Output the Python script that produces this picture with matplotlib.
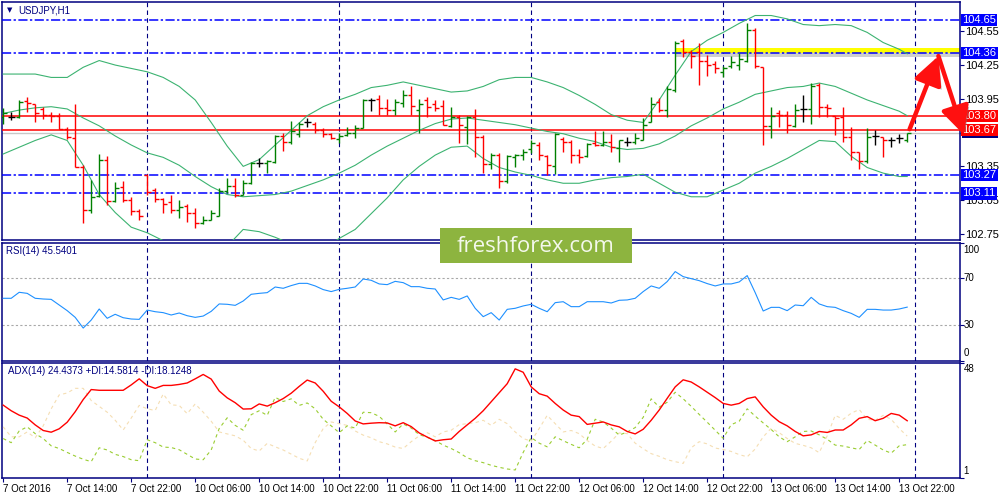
import matplotlib
matplotlib.use('Agg')
import matplotlib.pyplot as plt
import matplotlib.patheffects as pe
from matplotlib.patches import Rectangle
from matplotlib.transforms import blended_transform_factory

# USDJPY H1, one value per bar: 7 Oct 06:00 .. 13 Oct 23:00
opens = [103.79, 103.79, 103.79, 103.93, 103.90, 103.86, 103.81, 103.80, 103.68, 103.60,
         103.34, 102.96, 103.09, 103.41, 103.04, 103.17, 103.05, 102.95, 103.27, 103.14,
         103.06, 103.03, 102.96, 103.00, 102.94, 102.85, 102.87, 102.91, 103.13, 103.18,
         103.10, 103.20, 103.38, 103.38, 103.39, 103.62, 103.57, 103.64, 103.74, 103.73,
         103.67, 103.64, 103.59, 103.63, 103.65, 103.69, 103.94, 103.95, 103.87, 103.85,
         103.91, 103.98, 103.85, 103.94, 103.90, 103.89, 103.71, 103.79, 103.70, 103.79,
         103.61, 103.37, 103.45, 103.22, 103.43, 103.45, 103.50, 103.54, 103.44, 103.35,
         103.59, 103.57, 103.45, 103.44, 103.56, 103.54, 103.57, 103.51, 103.57, 103.57,
         103.58, 103.74, 103.92, 103.85, 104.03, 104.46, 104.37, 104.37, 104.29, 104.26,
         104.19, 104.24, 104.25, 104.29, 104.56, 104.23, 103.71, 103.82, 103.81, 103.71,
         103.86, 103.86, 104.07, 103.88, 103.80, 103.79, 103.61, 103.48, 103.40, 103.62,
         103.61, 103.58, 103.60, 103.58]
highs = [103.87, 103.83, 103.94, 103.97, 103.90, 103.88, 103.83, 103.82, 103.70, 103.90,
         103.36, 103.23, 103.46, 103.44, 103.21, 103.22, 103.08, 102.97, 103.28, 103.16,
         103.07, 103.10, 103.05, 103.02, 102.98, 102.91, 102.96, 103.16, 103.25, 103.25,
         103.23, 103.39, 103.42, 103.41, 103.63, 103.65, 103.75, 103.74, 103.78, 103.74,
         103.69, 103.65, 103.65, 103.70, 103.72, 103.95, 103.96, 103.98, 103.95, 103.95,
         104.03, 104.06, 103.95, 103.97, 103.94, 103.94, 103.88, 103.81, 103.80, 103.86,
         103.63, 103.47, 103.47, 103.45, 103.46, 103.50, 103.58, 103.57, 103.45, 103.65,
         103.61, 103.58, 103.50, 103.56, 103.66, 103.66, 103.64, 103.58, 103.61, 103.65,
         103.78, 103.97, 103.96, 104.06, 104.46, 104.48, 104.38, 104.45, 104.34, 104.29,
         104.24, 104.33, 104.36, 104.62, 104.58, 104.23, 103.88, 103.85, 103.84, 103.90,
         103.98, 104.09, 104.09, 103.90, 103.80, 103.88, 103.70, 103.48, 103.69, 103.67,
         103.61, 103.61, 103.64, 103.65]
lows = [103.73, 103.76, 103.78, 103.83, 103.74, 103.77, 103.74, 103.68, 103.59, 103.34,
        102.85, 102.94, 103.08, 103.01, 103.03, 103.03, 102.92, 102.87, 103.10, 103.03,
        102.94, 102.94, 102.89, 102.86, 102.80, 102.84, 102.87, 102.91, 103.11, 103.08,
        103.10, 103.19, 103.34, 103.29, 103.38, 103.49, 103.55, 103.61, 103.70, 103.65,
        103.61, 103.59, 103.56, 103.62, 103.60, 103.69, 103.84, 103.81, 103.81, 103.81,
        103.88, 103.81, 103.65, 103.79, 103.84, 103.72, 103.70, 103.56, 103.55, 103.43,
        103.29, 103.33, 103.16, 103.20, 103.34, 103.41, 103.47, 103.41, 103.27, 103.28,
        103.48, 103.38, 103.38, 103.43, 103.53, 103.53, 103.48, 103.39, 103.53, 103.55,
        103.58, 103.74, 103.83, 103.79, 104.01, 104.32, 104.22, 104.07, 104.15, 104.18,
        104.14, 104.22, 104.21, 104.28, 104.22, 103.54, 103.60, 103.70, 103.65, 103.70,
        103.74, 103.73, 103.79, 103.79, 103.63, 103.57, 103.41, 103.33, 103.38, 103.54,
        103.43, 103.52, 103.56, 103.57]
closes = [103.82, 103.79, 103.92, 103.91, 103.82, 103.81, 103.80, 103.68, 103.61, 103.34,
          102.96, 103.08, 103.41, 103.04, 103.16, 103.05, 102.95, 102.91, 103.12, 103.06,
          103.02, 102.96, 102.99, 102.94, 102.85, 102.87, 102.94, 103.13, 103.18, 103.10,
          103.20, 103.38, 103.38, 103.40, 103.62, 103.57, 103.66, 103.73, 103.74, 103.67,
          103.64, 103.60, 103.62, 103.65, 103.69, 103.94, 103.94, 103.87, 103.85, 103.92,
          103.98, 103.89, 103.90, 103.88, 103.87, 103.72, 103.79, 103.72, 103.79, 103.61,
          103.37, 103.45, 103.22, 103.44, 103.45, 103.48, 103.56, 103.45, 103.36, 103.64,
          103.57, 103.45, 103.43, 103.55, 103.54, 103.57, 103.52, 103.58, 103.57, 103.60,
          103.72, 103.90, 103.85, 104.04, 104.45, 104.37, 104.33, 104.29, 104.25, 104.22,
          104.22, 104.28, 104.30, 104.56, 104.24, 103.71, 103.80, 103.81, 103.72, 103.85,
          103.86, 104.06, 103.88, 103.87, 103.78, 103.61, 103.48, 103.40, 103.61, 103.62,
          103.58, 103.58, 103.60, 103.65]

# Bollinger bands
band_bars = list(range(0, 113, 2)) + [113]
band_upper = [104.17, 104.17, 104.17, 104.14, 104.14, 104.23, 104.29, 104.25, 104.22, 104.19,
              104.14, 104.06, 103.94, 103.74, 103.53, 103.35, 103.41, 103.54, 103.67, 103.80,
              103.88, 103.94, 103.99, 104.05, 104.07, 104.10, 104.07, 104.04, 104.01, 104.02,
              104.06, 104.12, 104.14, 104.14, 104.10, 104.05, 103.98, 103.90, 103.81, 103.76,
              103.74, 103.94, 104.16, 104.37, 104.47, 104.54, 104.62, 104.69, 104.69, 104.66,
              104.61, 104.60, 104.61, 104.60, 104.54, 104.45, 104.39, 104.35]
band_middle = [103.82, 103.85, 103.87, 103.88, 103.86, 103.78, 103.71, 103.62, 103.54, 103.47,
               103.43, 103.36, 103.26, 103.17, 103.10, 103.08, 103.09, 103.10, 103.13, 103.18,
               103.23, 103.29, 103.36, 103.45, 103.53, 103.60, 103.67, 103.73, 103.77, 103.78,
               103.76, 103.74, 103.72, 103.69, 103.66, 103.64, 103.60, 103.57, 103.52, 103.50,
               103.51, 103.55, 103.62, 103.71, 103.78, 103.86, 103.92, 103.99, 104.02, 104.05,
               104.06, 104.09, 104.06, 104.00, 103.94, 103.89, 103.84, 103.80]
band_lower = [103.46, 103.52, 103.58, 103.63, 103.58, 103.36, 103.10, 102.94, 102.81, 102.76,
              102.69, 102.61, 102.55, 102.55, 102.64, 102.79, 102.77, 102.72, 102.66, 102.61,
              102.61, 102.71, 102.79, 102.93, 103.07, 103.23, 103.35, 103.45, 103.52, 103.53,
              103.42, 103.34, 103.30, 103.27, 103.23, 103.20, 103.20, 103.23, 103.25, 103.26,
              103.28, 103.20, 103.12, 103.08, 103.08, 103.14, 103.20, 103.29, 103.35, 103.42,
              103.50, 103.58, 103.57, 103.44, 103.34, 103.29, 103.26, 103.26]

rsi_values = [53.0, 53.0, 58.1, 57.2, 53.0, 52.4, 52.1, 47.3, 42.5, 36.8,
              27.7, 34.5, 43.9, 36.0, 39.4, 36.5, 35.4, 35.1, 43.0, 41.6,
              40.8, 38.8, 40.5, 38.2, 36.8, 37.9, 41.9, 48.2, 47.9, 47.0,
              50.7, 56.4, 57.2, 57.8, 62.6, 61.5, 63.8, 65.7, 65.7, 63.5,
              60.4, 58.7, 60.6, 61.5, 62.6, 69.4, 68.3, 65.2, 64.6, 67.4,
              66.3, 62.9, 62.9, 61.5, 60.9, 51.6, 53.8, 52.1, 55.0, 44.5,
              37.4, 40.8, 34.5, 43.6, 44.5, 46.5, 47.9, 44.5, 41.6, 49.3,
              50.1, 45.9, 45.9, 50.1, 50.1, 50.1, 49.0, 51.3, 51.6, 53.0,
              58.7, 63.5, 61.5, 67.2, 75.7, 71.4, 69.7, 68.0, 65.5, 63.5,
              65.2, 65.2, 66.9, 72.3, 57.8, 42.2, 45.3, 45.3, 42.5, 47.3,
              46.7, 53.8, 48.2, 45.9, 45.3, 42.5, 40.2, 36.8, 43.6, 43.6,
              43.0, 43.0, 43.9, 45.5]

adx_values = [30.8, 28.5, 26.7, 25.5, 22.7, 20.4, 19.7, 21.1, 23.8, 28.1,
              33.1, 37.2, 36.9, 36.9, 36.9, 36.9, 39.1, 41.6, 38.8, 37.7,
              38.9, 38.9, 39.3, 39.9, 41.6, 43.4, 41.5, 36.6, 33.8, 31.8,
              29.2, 29.3, 31.3, 30.4, 31.8, 33.5, 35.7, 38.5, 41.1, 39.9,
              36.5, 32.4, 30.1, 27.4, 24.3, 23.1, 23.4, 23.6, 23.5, 22.3,
              23.6, 22.0, 19.4, 17.7, 16.1, 16.6, 16.9, 20.0, 22.7, 25.4,
              28.5, 32.2, 35.9, 39.6, 45.7, 44.3, 38.3, 35.5, 34.5, 31.5,
              28.8, 26.7, 26.1, 22.9, 23.4, 23.9, 22.7, 21.9, 20.0, 19.0,
              20.9, 24.6, 28.8, 33.6, 38.3, 41.2, 40.3, 38.3, 36.1, 33.9,
              31.5, 30.8, 31.5, 33.5, 34.2, 30.1, 26.7, 24.0, 22.3, 20.0,
              18.2, 18.6, 20.0, 19.6, 20.6, 20.6, 22.7, 25.4, 26.1, 24.4,
              25.4, 27.4, 26.7, 24.4]
plus_di = [17.1, 15.4, 20.2, 21.9, 19.1, 17.1, 14.1, 13.0, 11.4, 9.9,
           8.6, 7.6, 13.3, 12.4, 10.6, 9.7, 8.4, 8.0, 16.6, 15.4,
           13.6, 13.4, 12.5, 10.6, 8.7, 8.4, 12.4, 21.2, 25.6, 22.5,
           20.5, 26.9, 28.5, 26.6, 34.0, 32.3, 33.4, 30.7, 31.7, 29.3,
           25.0, 22.3, 19.5, 22.3, 21.4, 27.9, 27.7, 26.2, 23.1, 19.8,
           23.1, 21.4, 18.7, 17.6, 16.3, 14.4, 13.0, 11.3, 9.2, 8.0,
           7.2, 6.1, 5.3, 4.6, 4.2, 11.4, 17.5, 15.2, 13.7, 17.8,
           16.2, 14.7, 13.3, 16.8, 25.0, 23.9, 21.4, 18.5, 19.8, 21.6,
           25.8, 33.4, 30.0, 32.0, 36.1, 33.4, 30.3, 27.0, 23.8, 20.5,
           17.2, 22.8, 24.2, 29.3, 26.3, 23.5, 20.8, 17.8, 15.8, 17.8,
           20.0, 20.2, 18.6, 16.8, 14.4, 14.0, 13.3, 12.6, 16.3, 14.4,
           12.4, 11.1, 14.1, 14.6]
minus_di = [21.9, 17.8, 17.8, 19.8, 17.4, 22.3, 29.3, 35.0, 35.8, 37.7,
            37.7, 32.7, 30.3, 27.9, 24.6, 20.6, 25.5, 30.7, 29.3, 28.6,
            35.4, 30.9, 30.7, 27.3, 31.3, 27.9, 24.2, 19.8, 19.0, 18.2,
            16.4, 13.0, 12.0, 15.1, 13.7, 12.4, 10.7, 9.0, 7.9, 15.4,
            21.2, 23.9, 23.2, 22.5, 20.2, 18.5, 17.4, 15.8, 14.9, 13.6,
            13.0, 15.8, 18.2, 19.5, 17.8, 19.8, 20.5, 22.8, 23.2, 23.6,
            24.6, 22.5, 25.0, 23.2, 19.8, 17.1, 16.0, 21.2, 26.6, 23.2,
            19.8, 20.4, 19.1, 16.3, 14.0, 13.0, 16.0, 19.4, 19.1, 15.2,
            12.9, 10.9, 9.8, 8.4, 7.6, 6.9, 13.3, 15.8, 14.9, 13.2,
            12.6, 11.8, 10.5, 9.6, 12.8, 17.8, 21.3, 19.5, 17.1, 15.1,
            14.3, 13.3, 11.3, 18.2, 26.6, 25.0, 27.5, 29.0, 25.0, 24.6,
            26.6, 25.0, 21.2, 18.1]

day_starts = [18, 42, 66, 90, 114]
label_bars = list(range(0, 113, 8))
time_labels = ['7 Oct 2016', '7 Oct 14:00', '7 Oct 22:00', '10 Oct 06:00', '10 Oct 14:00',
               '10 Oct 22:00', '11 Oct 06:00', '11 Oct 14:00', '11 Oct 22:00', '12 Oct 06:00',
               '12 Oct 14:00', '12 Oct 22:00', '13 Oct 06:00', '13 Oct 14:00', '13 Oct 22:00']
price_ticks = [104.55, 104.25, 103.95, 103.65, 103.35, 103.05, 102.75]
blue_levels = [104.65, 104.36, 103.27, 103.11]
red_levels = [103.80, 103.67]
last_price = 103.65
zone_low = 104.355
zone_high = 104.40
zone_first_bar = 84.1
rsi_levels = [30, 70]

NAVY = '#000080'
X_MIN, X_MAX = -0.15, 119.6
LABEL_X = 0.9625

plt.rcParams['font.family'] = ['Liberation Sans', 'DejaVu Sans']


def style_panel(ax):
    ax.set_xlim(X_MIN, X_MAX)
    for s in ax.spines.values():
        s.set_color(NAVY)
        s.set_linewidth(1.1)
    for b in day_starts:
        ax.axvline(b, color=NAVY, lw=0.8, ls=(0, (4, 3)), zorder=1)
    ax.yaxis.tick_right()
    ax.tick_params(axis='y', length=3, width=0.8, color=NAVY, labelsize=8, pad=1)
    ax.tick_params(axis='x', length=0, labelbottom=False)


def price_box(ax, trans, value, face, z):
    ax.text(LABEL_X, value, '%.2f' % value, transform=trans, color='white', fontsize=8,
            ha='left', va='center', zorder=z, clip_on=False,
            bbox=dict(boxstyle='square,pad=0.1', fc=face, ec='none'))


def draw_prices(fig, ax):
    style_panel(ax)
    bars = list(range(len(opens)))
    colors = []
    for o, c in zip(opens, closes):
        if c > o:
            colors.append('#008000')
        elif c < o:
            colors.append('#FF0000')
        else:
            colors.append('#000000')
    ax.vlines(bars, lows, highs, colors=colors, lw=1.0, zorder=6)
    ax.hlines(opens, [b - 0.42 for b in bars], bars, colors=colors, lw=1.0, zorder=6)
    ax.hlines(closes, bars, [b + 0.42 for b in bars], colors=colors, lw=1.0, zorder=6)

    for band in (band_upper, band_middle, band_lower):
        ax.plot(band_bars, band, color='#3CB371', lw=0.8, zorder=4)

    zone = Rectangle((zone_first_bar, zone_low), X_MAX - zone_first_bar, zone_high - zone_low,
                     fc='#FFFF00', ec='none', zorder=2,
                     path_effects=[pe.withSimplePatchShadow(offset=(0, -2.5), shadow_rgbFace='#888888', alpha=0.4)])
    ax.add_patch(zone)

    for lvl in blue_levels:
        ax.axhline(lvl, color='#0000FF', lw=1.1, ls=(0, (6, 1.6, 1.5, 1.6)), zorder=3)
    for lvl in red_levels:
        ax.axhline(lvl, color='#FF0000', lw=1.1, zorder=3)
    ax.axhline(last_price, color='#C8C8C8', lw=1.0, zorder=2)

    ax.set_ylim(102.696, 104.81)
    ax.set_yticks(price_ticks)
    # the tick under the current-price box is covered in the terminal
    ax.set_yticklabels(['' if abs(p - last_price) < 0.01 else '%.2f' % p for p in price_ticks])

    trans = blended_transform_factory(fig.transFigure, ax.transData)
    for lvl in blue_levels:
        price_box(ax, trans, lvl, '#0000FF', 20)
    # current price box, mostly hidden under the 103.67 label
    ax.add_patch(Rectangle((LABEL_X - 0.001, last_price - 0.045), 0.036, 0.045, transform=trans,
                           fc=NAVY, ec='none', zorder=21, clip_on=False))
    for lvl in red_levels:
        price_box(ax, trans, lvl, '#FF0000', 22)

    # drawn forecast: up to the yellow zone, then back down
    shadow = [pe.withSimplePatchShadow(offset=(2, -2), shadow_rgbFace='#777777', alpha=0.5)]
    style = '-|>,head_length=1.0,head_width=0.5'
    ax.annotate('', xy=(116.9, 104.33), xytext=(113.3, 103.68), annotation_clip=False,
                arrowprops=dict(arrowstyle=style, color='#FF1010', lw=3.2, mutation_scale=17,
                                shrinkA=0, shrinkB=0, path_effects=shadow),
                zorder=25)
    ax.annotate('', xy=(120.1, 103.63), xytext=(116.9, 104.33), annotation_clip=False,
                arrowprops=dict(arrowstyle=style, color='#FF1010', lw=3.2, mutation_scale=17,
                                shrinkA=0, shrinkB=0, path_effects=shadow),
                zorder=25)

    ax.text(0.0075, 0.966, '\u25BC', transform=ax.transAxes, color=NAVY, fontsize=5,
            ha='center', va='center', family='DejaVu Sans')
    ax.text(0.0165, 0.966, 'USDJPY,H1', transform=ax.transAxes, color=NAVY, fontsize=7,
            ha='left', va='center')


def draw_rsi(fig, ax):
    style_panel(ax)
    bars = list(range(len(rsi_values)))
    ax.plot(bars, rsi_values, color='#1E90FF', lw=0.8, zorder=4)
    for lvl in rsi_levels:
        ax.axhline(lvl, color='#A8A8A8', lw=0.8, ls=(0, (2, 2)), zorder=2)
    ax.set_ylim(-0.3, 100)
    ax.set_yticks([0, 30, 70, 100])
    ax.set_yticklabels([])
    trans = blended_transform_factory(fig.transFigure, ax.transData)
    ax.text(LABEL_X + 0.001, 98, '100', transform=trans, fontsize=7, va='top', ha='left')
    ax.text(LABEL_X + 0.001, 70, '70', transform=trans, fontsize=7, va='center', ha='left')
    ax.text(LABEL_X + 0.001, 30, '30', transform=trans, fontsize=7, va='center', ha='left')
    ax.text(LABEL_X + 0.001, 2, '0', transform=trans, fontsize=7, va='bottom', ha='left')
    ax.text(0.004, 0.93, 'RSI(14) 45.5401', transform=ax.transAxes, color=NAVY, fontsize=7,
            ha='left', va='center')


def draw_adx(fig, ax):
    style_panel(ax)
    bars = list(range(len(adx_values)))
    ax.plot(bars, minus_di, color='#F5DEB3', lw=0.8, ls=(0, (3, 3)), zorder=3)
    ax.plot(bars, plus_di, color='#9ACD32', lw=0.8, ls=(0, (3, 3)), zorder=3)
    ax.plot(bars, adx_values, color='#FF0000', lw=1.0, zorder=4)
    ax.set_ylim(0.9, 48.1)
    ax.set_yticks([1, 48])
    ax.set_yticklabels([])
    trans = blended_transform_factory(fig.transFigure, ax.transData)
    ax.text(LABEL_X + 0.001, 47.6, '48', transform=trans, fontsize=7, va='top', ha='left')
    ax.text(LABEL_X + 0.001, 1.6, '1', transform=trans, fontsize=7, va='bottom', ha='left')
    ax.text(0.006, 0.93, 'ADX(14) 24.4373 +DI:14.5814 -DI:18.1248', transform=ax.transAxes,
            color=NAVY, fontsize=7, ha='left', va='center')
    ax.set_xticks(label_bars)
    ax.set_xticklabels(time_labels, ha='left')
    ax.tick_params(axis='x', length=3, width=0.8, color=NAVY, labelsize=7, pad=1.5,
                   labelbottom=True)


def main():
    fig = plt.figure(figsize=(10, 5), dpi=100)
    ax_price = fig.add_axes([0.002, 0.52, 0.958, 0.476])
    ax_rsi = fig.add_axes([0.002, 0.278, 0.958, 0.236])
    ax_adx = fig.add_axes([0.002, 0.044, 0.958, 0.230])
    draw_prices(fig, ax_price)
    draw_rsi(fig, ax_rsi)
    draw_adx(fig, ax_adx)

    # watermark sits on top of the panels
    fig.add_artist(Rectangle((0.44, 1 - 263 / 500), 0.192, 35 / 500, transform=fig.transFigure,
                             fc='#8DB43F', ec='none', zorder=10))
    fig.text(0.536, 1 - 246 / 500, 'freshforex.com', color='#F4F8EC', fontsize=16,
             family='Open Sans', ha='center', va='center', zorder=11)

    fig.savefig('out.png', dpi=100)


if __name__ == '__main__':
    main()
